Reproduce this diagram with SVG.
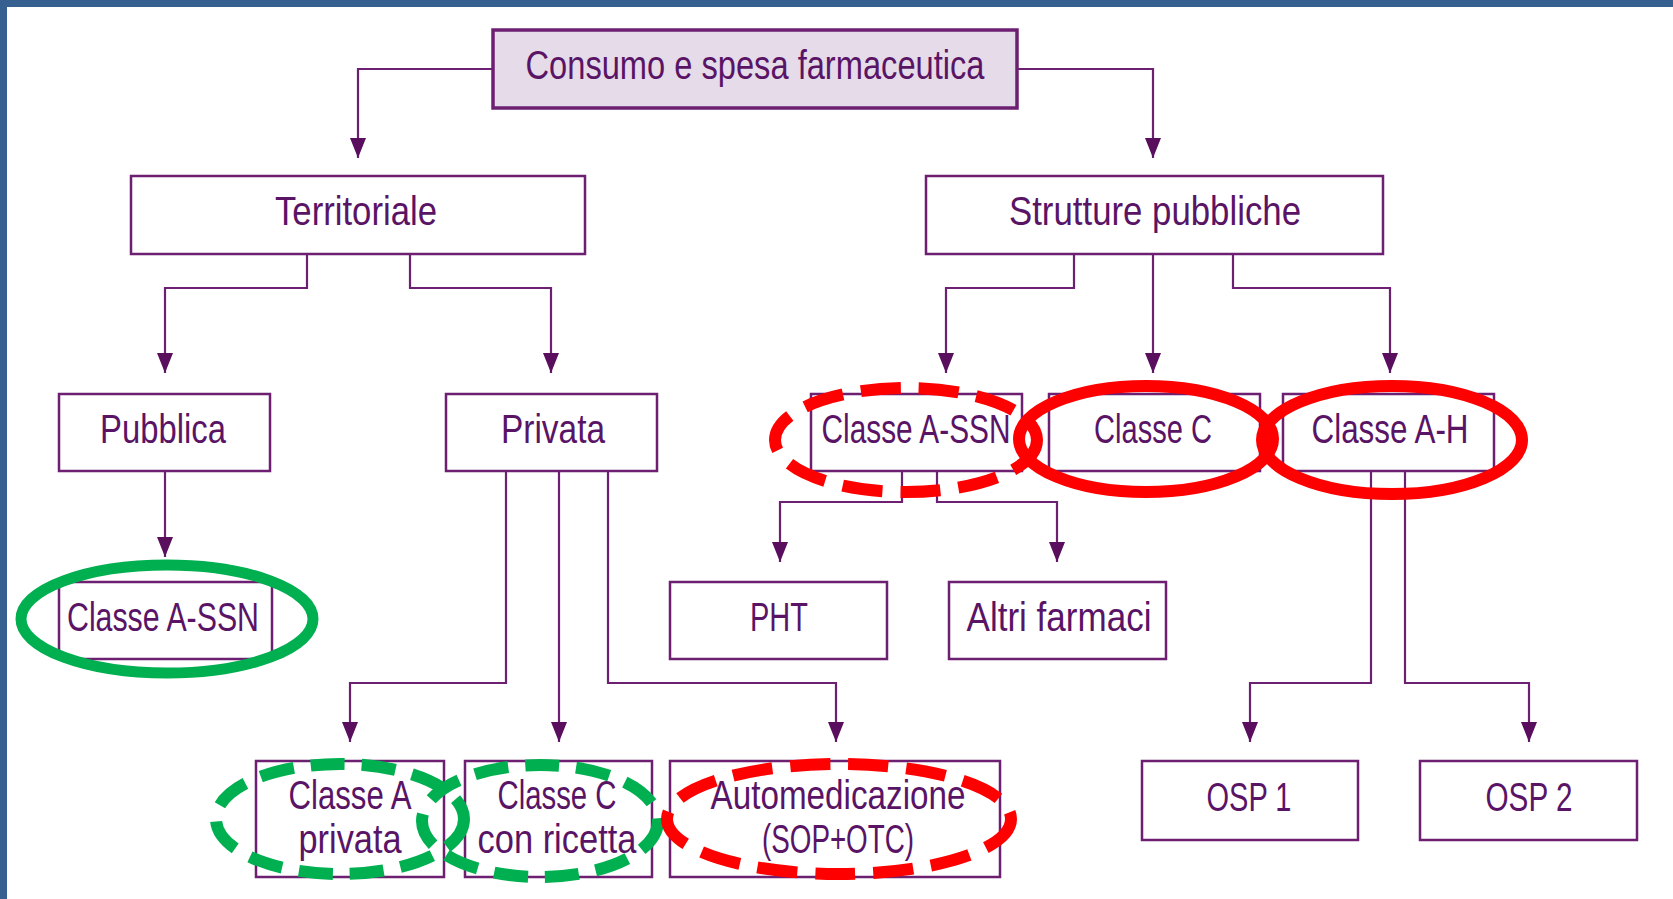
<svg xmlns="http://www.w3.org/2000/svg" width="1673" height="899" viewBox="0 0 1673 899">
<style>
.box{fill:#ffffff;stroke:#6d1f72;stroke-width:2.5}
.top{fill:#e6dbe8;stroke:#6d1f72;stroke-width:3.5}
.lbl{font-family:"Liberation Sans Narrow","Liberation Sans",sans-serif;font-size:41px;fill:#5a1466;text-anchor:middle}
.con{fill:none;stroke:#6d1f72;stroke-width:2.2;marker-end:url(#arr)}
.gs{fill:none;stroke:#00b050;stroke-width:11}
.gd{fill:none;stroke:#00b050;stroke-width:12;stroke-dasharray:34 17}
.rs{fill:none;stroke:#ff0000;stroke-width:12}
.rd{fill:none;stroke:#ff0000;stroke-width:12;stroke-dasharray:40 18}
</style>
<defs>
<marker id="arr" markerUnits="userSpaceOnUse" markerWidth="16" markerHeight="20" viewBox="0 0 16 20" refX="8" refY="20" orient="0">
<path d="M0,0 L16,0 L8,20 Z" fill="#5a0f5e"/>
</marker>
</defs>
<rect x="0" y="0" width="1673" height="899" fill="#ffffff"/>
<rect x="0" y="0" width="1673" height="7" fill="#36608f"/>
<rect x="0" y="0" width="7" height="899" fill="#36608f"/>

<g id="connectors">
<path class="con" d="M493,69 H358 V158"/>
<path class="con" d="M1017,69 H1153 V158"/>
<path class="con" d="M307,254 V288 H165 V373"/>
<path class="con" d="M410,254 V288 H551 V373"/>
<path class="con" d="M1074,254 V288 H946 V373"/>
<path class="con" d="M1153,254 V373"/>
<path class="con" d="M1233,254 V288 H1390 V373"/>
<path class="con" d="M165,471 V557"/>
<path class="con" d="M506,471 V683 H350 V742"/>
<path class="con" d="M559,471 V742"/>
<path class="con" d="M608,471 V683 H836 V742"/>
<path class="con" d="M902,471 V502 H780 V562"/>
<path class="con" d="M937,471 V502 H1057 V562"/>
<path class="con" d="M1371,471 V683 H1250 V742"/>
<path class="con" d="M1405,471 V683 H1529 V742"/>
</g>

<g id="n-consumo"><rect class="top" x="493" y="30" width="524" height="78"/><text class="lbl" x="755" y="79" textLength="459" lengthAdjust="spacingAndGlyphs">Consumo e spesa farmaceutica</text></g>
<g id="n-territoriale"><rect class="box" x="131" y="176" width="454" height="78"/><text class="lbl" x="356" y="225" textLength="162" lengthAdjust="spacingAndGlyphs">Territoriale</text></g>
<g id="n-strutture"><rect class="box" x="926" y="176" width="457" height="78"/><text class="lbl" x="1155" y="225" textLength="292" lengthAdjust="spacingAndGlyphs">Strutture pubbliche</text></g>
<g id="n-pubblica"><rect class="box" x="59" y="394" width="211" height="77"/><text class="lbl" x="163" y="443" textLength="126" lengthAdjust="spacingAndGlyphs">Pubblica</text></g>
<g id="n-privata"><rect class="box" x="446" y="394" width="211" height="77"/><text class="lbl" x="553" y="443" textLength="104" lengthAdjust="spacingAndGlyphs">Privata</text></g>
<g id="n-classe-a-ssn-r"><rect class="box" x="811" y="394" width="211" height="77"/><text class="lbl" x="916" y="443" textLength="189" lengthAdjust="spacingAndGlyphs">Classe A-SSN</text></g>
<g id="n-classe-c-r"><rect class="box" x="1049" y="394" width="211" height="77"/><text class="lbl" x="1153" y="443" textLength="118" lengthAdjust="spacingAndGlyphs">Classe C</text></g>
<g id="n-classe-a-h"><rect class="box" x="1283" y="394" width="211" height="77"/><text class="lbl" x="1390" y="443" textLength="157" lengthAdjust="spacingAndGlyphs">Classe A-H</text></g>
<g id="n-classe-a-ssn-l"><rect class="box" x="59" y="582" width="213" height="77"/><text class="lbl" x="163" y="631" textLength="192" lengthAdjust="spacingAndGlyphs">Classe A-SSN</text></g>
<g id="n-pht"><rect class="box" x="670" y="582" width="217" height="77"/><text class="lbl" x="779" y="631" textLength="58" lengthAdjust="spacingAndGlyphs">PHT</text></g>
<g id="n-altri"><rect class="box" x="949" y="582" width="217" height="77"/><text class="lbl" x="1059" y="631" textLength="185" lengthAdjust="spacingAndGlyphs">Altri farmaci</text></g>
<g id="n-classe-a-privata"><rect class="box" x="256" y="761" width="188" height="116"/><text class="lbl" x="350" y="809" textLength="123" lengthAdjust="spacingAndGlyphs">Classe A</text><text class="lbl" x="350" y="853" textLength="103" lengthAdjust="spacingAndGlyphs">privata</text></g>
<g id="n-classe-c-ricetta"><rect class="box" x="465" y="761" width="187" height="116"/><text class="lbl" x="557" y="809" textLength="119" lengthAdjust="spacingAndGlyphs">Classe C</text><text class="lbl" x="557" y="853" textLength="159" lengthAdjust="spacingAndGlyphs">con ricetta</text></g>
<g id="n-automedicazione"><rect class="box" x="670" y="761" width="330" height="116"/><text class="lbl" x="838" y="809" textLength="255" lengthAdjust="spacingAndGlyphs">Automedicazione</text><text class="lbl" x="838" y="853" textLength="152" lengthAdjust="spacingAndGlyphs">(SOP+OTC)</text></g>
<g id="n-osp1"><rect class="box" x="1142" y="761" width="216" height="79"/><text class="lbl" x="1249" y="811" textLength="85" lengthAdjust="spacingAndGlyphs">OSP 1</text></g>
<g id="n-osp2"><rect class="box" x="1420" y="761" width="217" height="79"/><text class="lbl" x="1529" y="811" textLength="87" lengthAdjust="spacingAndGlyphs">OSP 2</text></g>

<g id="highlights">
<ellipse class="gs" cx="167" cy="619" rx="146" ry="54"/>
<ellipse class="rd" cx="906" cy="440" rx="131" ry="52"/>
<ellipse class="rs" cx="1146" cy="439" rx="127" ry="53"/>
<ellipse class="rs" cx="1392" cy="440" rx="130" ry="54"/>
<ellipse class="gd" cx="340" cy="819" rx="124" ry="55"/>
<ellipse class="gd" cx="540" cy="821" rx="118" ry="56"/>
<ellipse class="rd" cx="839" cy="819" rx="172" ry="55"/>
</g>
</svg>
